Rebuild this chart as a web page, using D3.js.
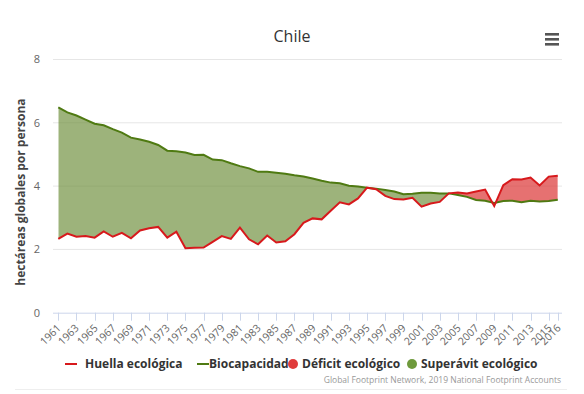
<!DOCTYPE html>
<html>
<head>
<meta charset="utf-8">
<script src="https://cdn.jsdelivr.net/npm/d3@7"></script>
<style>
  html, body { margin: 0; padding: 0; background: #fff; }
  svg { font-family: "Open Sans", "DejaVu Sans", sans-serif; display: block; }
</style>
</head>
<body>
<div id="chart"></div>
<script>
const years = d3.range(1961, 2017);
const huella = [
  2.33, 2.5, 2.4, 2.42, 2.37, 2.57, 2.4, 2.52, 2.35, 2.6, 2.67, 2.71, 2.37, 2.56,
  2.04, 2.05, 2.06, 2.24, 2.42, 2.33, 2.69, 2.32, 2.16, 2.44, 2.22,
  2.26, 2.48, 2.84, 2.98, 2.95, 3.22, 3.49, 3.42, 3.61, 3.95,
  3.9, 3.69, 3.59, 3.58, 3.63, 3.35, 3.45, 3.5, 3.77, 3.8,
  3.77, 3.83, 3.89, 3.37, 4.03, 4.22, 4.21, 4.27, 4.02, 4.3, 4.33
];
const biocapacidad = [
  6.49, 6.33, 6.23, 6.1, 5.97, 5.92, 5.8, 5.69, 5.53, 5.47, 5.4, 5.3, 5.12, 5.1,
  5.06, 4.98, 4.99, 4.84, 4.82, 4.72, 4.63, 4.56, 4.45, 4.45, 4.42,
  4.39, 4.34, 4.3, 4.24, 4.17, 4.11, 4.09, 4.01, 3.99, 3.95,
  3.92, 3.88, 3.83, 3.74, 3.76, 3.79, 3.79, 3.77, 3.77, 3.72,
  3.66, 3.56, 3.54, 3.47, 3.53, 3.54, 3.49, 3.54, 3.51, 3.53, 3.57
];
const yTicks = [0, 2, 4, 6, 8];
const xTickYears = d3.range(1961, 2016, 2).concat([2016]);
const legendItems = [
  { label: 'Huella ecológica', kind: 'line', color: '#d7191c', x: 65 },
  { label: 'Biocapacidad', kind: 'line', color: '#4f7a12', x: 197 },
  { label: 'Déficit ecológico', kind: 'dot', color: '#e03b3b', x: 287 },
  { label: 'Superávit ecológico', kind: 'dot', color: '#6e9a3c', x: 406 }
];

const W = 584, H = 394;
const plot = { left: 53, right: 562, top: 59.5, bottom: 312.7 };

const data = years.map((yr, i) => ({ yr, h: huella[i], b: biocapacidad[i] }));

const x = d3.scaleLinear().domain([1961, 2016]).range([58.3, 557.8]);
const y = d3.scaleLinear().domain([0, 8]).range([plot.bottom, plot.top]);

const svg = d3.select('#chart').append('svg').attr('width', W).attr('height', H);

// title + menu icon
svg.append('text').attr('x', 292).attr('y', 42).attr('text-anchor', 'middle')
  .attr('font-size', 16).attr('fill', '#333').text('Chile');
[0, 5, 10].forEach((d) => {
  svg.append('rect').attr('x', 545).attr('y', 33 + d).attr('width', 14).attr('height', 2.6)
    .attr('fill', '#555');
});

// grid + y labels
const grid = svg.append('g');
yTicks.forEach((t) => {
  if (t > 0) {
    grid.append('line').attr('x1', plot.left).attr('x2', plot.right)
      .attr('y1', y(t)).attr('y2', y(t)).attr('stroke', '#e6e6e6').attr('stroke-width', 1);
  }
  grid.append('text').attr('x', 40).attr('y', y(t)).attr('dy', '0.35em')
    .attr('text-anchor', 'end').attr('font-size', 11).attr('fill', '#666').text(t);
});

svg.append('text')
  .attr('transform', `translate(25,${(plot.top + plot.bottom) / 2 + 6}) rotate(-90)`)
  .attr('text-anchor', 'middle').attr('font-size', 12).attr('font-weight', 700)
  .attr('fill', '#444').text('hectáreas globales por persona');

// clip paths for surplus / deficit
const defs = svg.append('defs');
defs.append('clipPath').attr('id', 'clip-above')
  .append('path')
  .attr('d', d3.area().x((d) => x(d.yr)).y0(0).y1((d) => y(d.h))(data));
defs.append('clipPath').attr('id', 'clip-below')
  .append('path')
  .attr('d', d3.area().x((d) => x(d.yr)).y0(H).y1((d) => y(d.h))(data));

const band = d3.area().x((d) => x(d.yr)).y0((d) => y(d.h)).y1((d) => y(d.b));

svg.append('path').attr('d', band(data)).attr('fill', '#6f8f3c').attr('fill-opacity', 0.68)
  .attr('clip-path', 'url(#clip-above)');
svg.append('path').attr('d', band(data)).attr('fill', '#dc3a3a').attr('fill-opacity', 0.72)
  .attr('clip-path', 'url(#clip-below)');

const line = d3.line().x((d) => x(d.yr));
svg.append('path').attr('d', line.y((d) => y(d.b))(data))
  .attr('fill', 'none').attr('stroke', '#4f7a12').attr('stroke-width', 2);
svg.append('path').attr('d', line.y((d) => y(d.h))(data))
  .attr('fill', 'none').attr('stroke', '#d7191c').attr('stroke-width', 2);

// x axis
const xa = svg.append('g');
xa.append('line').attr('x1', plot.left).attr('x2', plot.right)
  .attr('y1', plot.bottom + 0.5).attr('y2', plot.bottom + 0.5).attr('stroke', '#ccd6eb');
xTickYears.forEach((yr) => {
  const px = Math.round(x(yr)) + 0.5;
  xa.append('line').attr('x1', px).attr('x2', px).attr('y1', plot.bottom)
    .attr('y2', plot.bottom + 8).attr('stroke', '#ccd6eb');
  xa.append('text').attr('transform', `translate(${px + 3},${plot.bottom + 16}) rotate(-45)`)
    .attr('text-anchor', 'end').attr('font-size', 10.5).attr('fill', '#666').text(yr);
});

// legend
const lg = svg.append('g').attr('transform', 'translate(0,364)');
legendItems.forEach((it) => {
  if (it.kind === 'line') {
    lg.append('line').attr('x1', it.x).attr('x2', it.x + 12).attr('y1', 0).attr('y2', 0)
      .attr('stroke', it.color).attr('stroke-width', 2);
    lg.append('text').attr('x', it.x + (it.label === 'Biocapacidad' ? 12 : 20)).attr('dy', '0.35em')
      .attr('font-size', 12).attr('font-weight', 700).attr('fill', '#333').text(it.label);
  } else {
    lg.append('circle').attr('cx', it.x + 6).attr('cy', 0).attr('r', 5).attr('fill', it.color);
    lg.append('text').attr('x', it.x + 15).attr('dy', '0.35em')
      .attr('font-size', 12).attr('font-weight', 700).attr('fill', '#333').text(it.label);
  }
});

svg.append('text').attr('x', 561).attr('y', 383).attr('text-anchor', 'end')
  .attr('font-size', 8.5).attr('fill', '#999')
  .text('Global Footprint Network, 2019 National Footprint Accounts');
svg.append('line').attr('x1', 15).attr('x2', 567).attr('y1', 389.5).attr('y2', 389.5)
  .attr('stroke', '#eee');
</script>
</body>
</html>
